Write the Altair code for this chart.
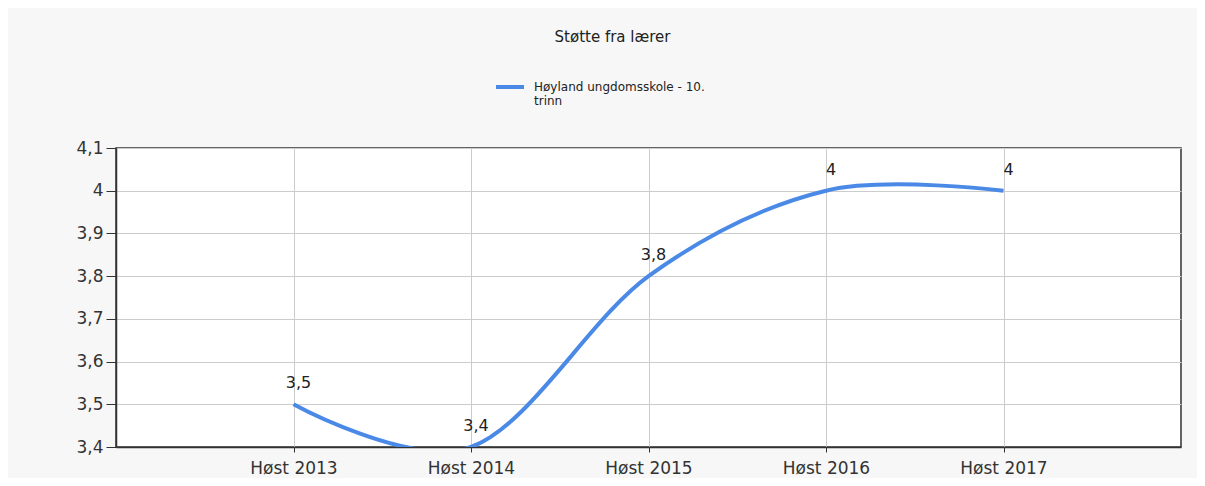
import altair as alt
import pandas as pd

categories = ["Høst 2013", "Høst 2014", "Høst 2015", "Høst 2016", "Høst 2017"]
values = [3.5, 3.4, 3.8, 4.0, 4.0]
series_name = "Høyland ungdomsskole - 10. trinn"
y_ticks = [3.4, 3.5, 3.6, 3.7, 3.8, 3.9, 4.0, 4.1]

df = pd.DataFrame({"periode": categories, "verdi": values, "serie": [series_name] * len(categories)})

line_color = "#4a8ae6"
font = "DejaVu Sans"

x_enc = alt.X("periode:O", sort=categories,
              scale=alt.Scale(type="point", padding=1),
              axis=alt.Axis(title=None, labelAngle=0, labelFontSize=17, labelFont=font,
                            labelColor="#333333", labelPadding=8, tickSize=5, tickColor="#333333",
                            domainColor="#333333", domainWidth=1.5, gridColor="#cccccc", grid=True))
y_enc = alt.Y("verdi:Q", scale=alt.Scale(domain=[3.4, 4.1], nice=False, zero=False),
              axis=alt.Axis(title=None, values=y_ticks, labelFontSize=17, labelFont=font,
                            labelColor="#333333", labelPadding=3, tickSize=10, tickColor="#333333",
                            domainColor="#333333", domainWidth=1.5, gridColor="#cccccc",
                            labelExpr="replace(format(datum.value, '.1~f'), '.', ',')"))

line = alt.Chart(df).mark_line(interpolate="cardinal", strokeWidth=4, clip=True).encode(
    x=x_enc, y=y_enc,
    color=alt.Color("serie:N", scale=alt.Scale(range=[line_color]),
                    legend=alt.Legend(title=None, orient="none", legendX=378, legendY=-77,
                                      symbolType="stroke", symbolSize=784, symbolStrokeWidth=4,
                                      labelFont=font, labelFontSize=12, labelColor="#222222",
                                      labelOffset=8, padding=0, labelLimit=400,
                                      labelExpr="split(replace(datum.label, '10. ', '10.|'), '|')"))
)

labels = alt.Chart(df).transform_calculate(
    lbl="replace(format(datum.verdi, '.1~f'), '.', ',')"
).mark_text(dx=5, dy=-21, fontSize=16, font=font, color="#222222", baseline="middle").encode(
    x=alt.X("periode:O", sort=categories), y="verdi:Q", text="lbl:N"
)

chart = alt.layer(line, labels).properties(
    width=1065, height=299,
    title=alt.TitleParams("Støtte fra lærer", anchor="middle", dx=-36, offset=26,
                          fontSize=15, font=font, fontWeight="normal", color="#222222"),
    autosize=alt.AutoSizeParams(type="none"),
    padding={"left": 108, "top": 140, "right": 16, "bottom": 31},
    background="#f7f7f7",
).configure_view(fill="white", stroke="#333333", strokeWidth=1.5)

chart.save("out.html", embed_options={"renderer": "svg", "actions": False})
